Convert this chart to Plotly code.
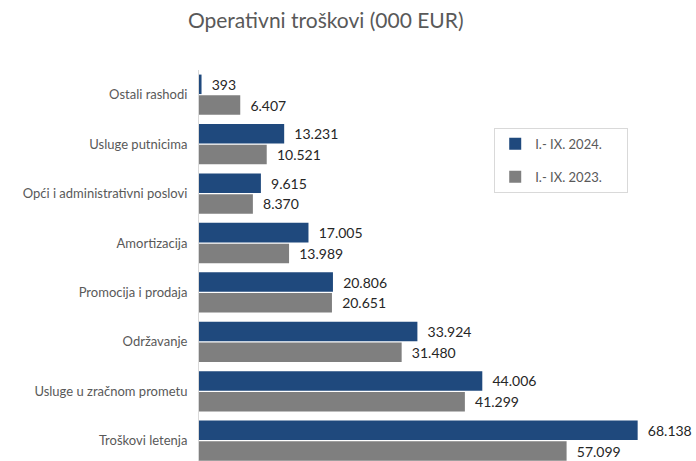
import plotly.graph_objects as go

# Cost categories, listed bottom-to-top on the axis
categories = [
    "Troškovi letenja",
    "Usluge u zračnom prometu",
    "Održavanje",
    "Promocija i prodaja",
    "Amortizacija",
    "Opći i administrativni poslovi",
    "Usluge putnicima",
    "Ostali rashodi",
]
values_2024 = [68138, 44006, 33924, 20806, 17005, 9615, 13231, 393]
values_2023 = [57099, 41299, 31480, 20651, 13989, 8370, 10521, 6407]
series_names = ["I.- IX. 2024.", "I.- IX. 2023."]

BLUE = "#1f497d"
GRAY = "#7f7f7f"
FONT = "Lato, 'Open Sans', sans-serif"
NBSP = "\u00a0"
LABEL_TEMPLATE = NBSP * 2 + "%{x:,.0f}"

fig = go.Figure()
# 2023 first so it sits in the lower slot of each group
fig.add_trace(go.Bar(
    y=categories, x=values_2023, orientation="h",
    name=series_names[1] + NBSP * 6,
    marker=dict(color=GRAY, line=dict(width=0)),
    texttemplate=LABEL_TEMPLATE, textposition="outside",
    textfont=dict(size=14, color="#262626", family=FONT),
    cliponaxis=False, legendgroup="b", legendrank=2,
))
fig.add_trace(go.Bar(
    y=categories, x=values_2024, orientation="h",
    name=series_names[0] + NBSP * 6,
    marker=dict(color=BLUE, line=dict(width=0)),
    texttemplate=LABEL_TEMPLATE, textposition="outside",
    textfont=dict(size=14, color="#262626", family=FONT),
    cliponaxis=False, legendgroup="a", legendrank=1,
))

fig.update_layout(
    width=696, height=461,
    margin=dict(l=199, r=0, t=70, b=0),
    paper_bgcolor="white", plot_bgcolor="white",
    separators=",.",
    barmode="group", bargap=0.16, bargroupgap=0.06,
    font=dict(family=FONT, color="#595959"),
    title=dict(
        text="Operativni troškovi (000 EUR)",
        x=0.468, xref="container", xanchor="center",
        y=0.955, yref="container", yanchor="middle",
        font=dict(size=21, color="#595959", family=FONT),
    ),
    xaxis=dict(range=[0, 77200], visible=False, showgrid=False, zeroline=False),
    yaxis=dict(
        type="category", categoryorder="array", categoryarray=categories,
        range=[-0.41, 7.5],
        showline=True, linecolor="#d9d9d9", linewidth=1,
        ticks="", showgrid=False, zeroline=False,
        tickfont=dict(size=13, color="#595959", family=FONT),
        ticklabelstandoff=8,
    ),
    legend=dict(
        x=0.594, y=0.852, xanchor="left", yanchor="top",
        bordercolor="#d9d9d9", borderwidth=1, bgcolor="white",
        font=dict(size=13, color="#595959", family=FONT),
        tracegroupgap=13, itemwidth=30,
    ),
)

fig.write_html("out.html")
